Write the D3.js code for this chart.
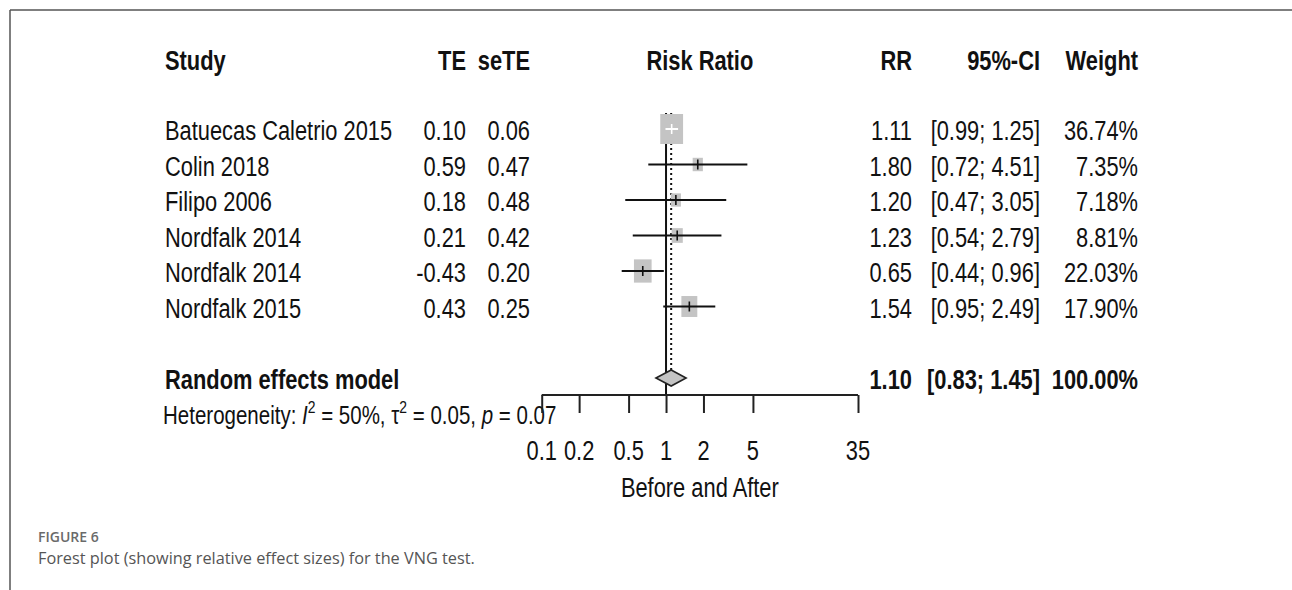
<!DOCTYPE html>
<html>
<head>
<meta charset="utf-8">
<script src="https://cdn.jsdelivr.net/npm/d3@7"></script>
<style>
  html, body { margin: 0; padding: 0; background: #fff; }
  svg { display: block; }
</style>
</head>
<body>
<svg id="chart" width="1292" height="590"></svg>
<script>
// ---------- data ----------
const studies = ["Batuecas Caletrio 2015", "Colin 2018", "Filipo 2006", "Nordfalk 2014", "Nordfalk 2014", "Nordfalk 2015"];
const te      = [0.10, 0.59, 0.18, 0.21, -0.43, 0.43];
const seTE    = [0.06, 0.47, 0.48, 0.42, 0.20, 0.25];
const rr      = [1.11, 1.80, 1.20, 1.23, 0.65, 1.54];
const lower   = [0.99, 0.72, 0.47, 0.54, 0.44, 0.95];
const upper   = [1.25, 4.51, 3.05, 2.79, 0.96, 2.49];
const weight  = [36.74, 7.35, 7.18, 8.81, 22.03, 17.90];
const pooled  = { label: "Random effects model", rr: 1.10, lower: 0.83, upper: 1.45, weight: 100.00 };
const headers = ["Study", "TE", "seTE", "Risk Ratio", "RR", "95%-CI", "Weight"];
const tickValues = [0.1, 0.2, 0.5, 1, 2, 5, 35];
const axisTitle = "Before and After";
const captionTitle = "FIGURE 6";
const captionText = "Forest plot (showing relative effect sizes) for the VNG test.";

// ---------- layout ----------
const svg = d3.select("#chart");
const FONT = "'Liberation Sans', Arial, Helvetica, sans-serif";
const SX = 0.81;      // horizontal compression of the original figure
const FS = 27;

const x = d3.scaleLog().domain([0.1, 35]).range([541.7, 858]);
const y = d3.scalePoint().domain(d3.range(studies.length)).range([129, 306.5]);
const yPooled = 378;
const axisY = 395;
const topY = 113;

const colStudy = 165, colTE = 466, colSE = 530, colRR = 912, colCI = 1040, colW = 1138;

function txt(g, s, px, py, anchor, opts = {}) {
  return g.append("text")
    .attr("transform", `translate(${px},${py}) scale(${SX},1)`)
    .attr("text-anchor", anchor)
    .attr("font-family", FONT)
    .attr("font-size", opts.size || FS)
    .attr("font-weight", opts.bold ? "bold" : "normal")
    .attr("fill", "#111")
    .text(s);
}

// frame
svg.append("line").attr("x1", 10).attr("x2", 1292).attr("y1", 10).attr("y2", 10)
  .attr("stroke", "#555").attr("stroke-width", 1.5);
svg.append("line").attr("x1", 10).attr("x2", 10).attr("y1", 10).attr("y2", 590)
  .attr("stroke", "#555").attr("stroke-width", 1.5);

const g = svg.append("g");

// headers
const hy = 70;
txt(g, headers[0], colStudy, hy, "start", {bold: true});
txt(g, headers[1], colTE, hy, "end", {bold: true});
txt(g, headers[2], colSE, hy, "end", {bold: true});
txt(g, headers[3], (x.range()[0] + x.range()[1]) / 2, hy, "middle", {bold: true});
txt(g, headers[4], colRR, hy, "end", {bold: true});
txt(g, headers[5], colCI, hy, "end", {bold: true});
txt(g, headers[6], colW, hy, "end", {bold: true});

// rows text
studies.forEach((s, i) => {
  const by = y(i) + 11;
  txt(g, s, colStudy, by, "start");
  txt(g, te[i].toFixed(2), colTE, by, "end");
  txt(g, seTE[i].toFixed(2), colSE, by, "end");
  txt(g, rr[i].toFixed(2), colRR, by, "end");
  txt(g, `[${lower[i].toFixed(2)}; ${upper[i].toFixed(2)}]`, colCI, by, "end");
  txt(g, weight[i].toFixed(2) + "%", colW, by, "end");
});

// pooled text
const py = yPooled + 11;
txt(g, pooled.label, colStudy, py, "start", {bold: true});
txt(g, pooled.rr.toFixed(2), colRR, py, "end", {bold: true});
txt(g, `[${pooled.lower.toFixed(2)}; ${pooled.upper.toFixed(2)}]`, colCI, py, "end", {bold: true});
txt(g, pooled.weight.toFixed(2) + "%", colW, py, "end", {bold: true});

// heterogeneity
const het = g.append("text")
  .attr("transform", `translate(${163},${424}) scale(0.82,1)`)
  .attr("font-family", FONT).attr("font-size", 25).attr("fill", "#111");
het.append("tspan").text("Heterogeneity: ");
het.append("tspan").attr("font-style", "italic").text("I");
het.append("tspan").attr("font-size", 17).attr("dy", -11).text("2");
het.append("tspan").attr("dy", 11).text(" = 50%, τ");
het.append("tspan").attr("font-size", 17).attr("dy", -11).text("2");
het.append("tspan").attr("dy", 11).text(" = 0.05, ");
het.append("tspan").attr("font-style", "italic").text("p");
het.append("tspan").text(" = 0.07");

// reference lines
g.append("line").attr("x1", x(1)).attr("x2", x(1)).attr("y1", topY).attr("y2", axisY)
  .attr("stroke", "#111").attr("stroke-width", 2);
g.append("line").attr("x1", x(pooled.rr)).attr("x2", x(pooled.rr)).attr("y1", topY).attr("y2", yPooled - 8)
  .attr("stroke", "#111").attr("stroke-width", 2).attr("stroke-dasharray", "2,3");

// squares and CIs
const k = 4.95, ratio = 0.76;
studies.forEach((s, i) => {
  const h = k * Math.sqrt(weight[i]);
  const w = h * ratio;
  const cx = x(rr[i]), cy = y(i);
  g.append("rect").attr("x", cx - w / 2).attr("y", cy - h / 2).attr("width", w).attr("height", h)
    .attr("fill", "#c4c4c4");
  const inside = x(lower[i]) >= cx - w / 2 && x(upper[i]) <= cx + w / 2;
  const col = inside ? "#fff" : "#111";
  g.append("line").attr("x1", x(lower[i])).attr("x2", x(upper[i])).attr("y1", cy).attr("y2", cy)
    .attr("stroke", col).attr("stroke-width", 2);
  g.append("line").attr("x1", cx).attr("x2", cx).attr("y1", cy - 5).attr("y2", cy + 5)
    .attr("stroke", col).attr("stroke-width", 1.6);
});

// diamond
const dh = 8;
g.append("path")
  .attr("d", `M${x(pooled.lower)},${yPooled} L${x(pooled.rr)},${yPooled - dh} L${x(pooled.upper)},${yPooled} L${x(pooled.rr)},${yPooled + dh} Z`)
  .attr("fill", "#c4c4c4").attr("stroke", "#222").attr("stroke-width", 1.6);

// axis
const axis = d3.axisBottom(x).tickValues(tickValues).tickSize(18).tickFormat(d3.format("~g")).tickPadding(0);
const ag = g.append("g").attr("transform", `translate(0,${axisY})`).call(axis);
ag.select(".domain").attr("stroke", "#222").attr("stroke-width", 2).attr("d", `M${x.range()[0]},0H${x.range()[1]}`);
ag.selectAll(".tick line").attr("stroke", "#222").attr("stroke-width", 2);
ag.selectAll(".tick text").remove();
tickValues.forEach(v => {
  txt(g, d3.format("~g")(v), x(v), 460, "middle");
});
txt(g, axisTitle, (x.range()[0] + x.range()[1]) / 2, 497, "middle");

// caption
svg.append("text").attr("x", 38).attr("y", 542).attr("font-family", "'Open Sans', sans-serif")
  .attr("font-size", 14).attr("font-weight", 600).attr("fill", "#6a6a6a").text(captionTitle);
svg.append("text").attr("x", 38).attr("y", 564).attr("font-family", "'Open Sans', sans-serif")
  .attr("font-size", 16.3).attr("fill", "#555").text(captionText);
</script>
</body>
</html>
